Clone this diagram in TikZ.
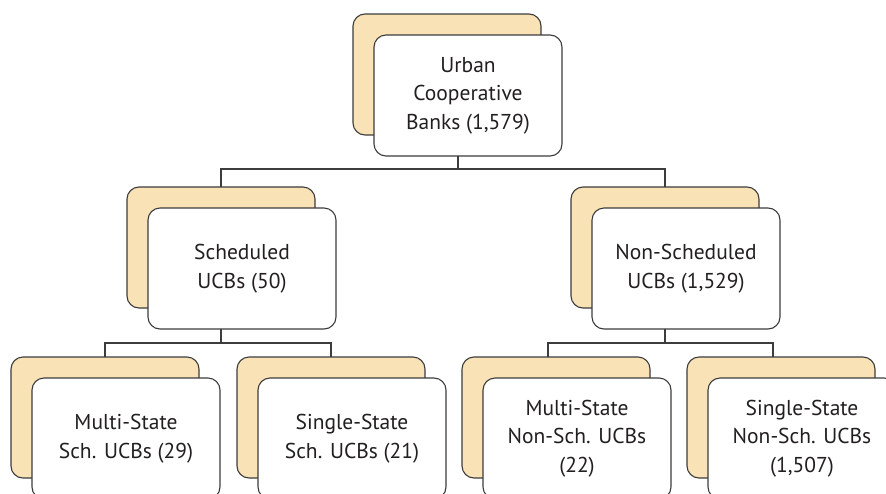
\documentclass[tikz,border=0pt]{standalone}
\usepackage{fontspec}
\setmainfont{PT Sans}
\definecolor{backfill}{RGB}{249,226,182}
\definecolor{edge}{RGB}{60,60,60}
\definecolor{txt}{RGB}{35,31,32}
\begin{document}
\begin{tikzpicture}[x=1pt,y=-1pt,
  boxbase/.style={draw=edge,line width=1.1pt,rounded corners=12pt,
    minimum width=188pt,minimum height=121pt,anchor=north west,inner sep=0pt,outer sep=0pt},
  backbox/.style={boxbase,fill=backfill},
  frontbox/.style={boxbase,fill=white,text=txt,align=center,
    font=\fontsize{21.5}{28.5}\selectfont},
  link/.style={draw=edge,line width=1.1pt}]
\useasboundingbox (0,0) rectangle (886,493);
\clip (0,0) rectangle (886,493);
% top
\node[backbox] (topb) at (353,14) {};
\node[frontbox] (top) at (374,35) {Urban\\Cooperative\\Banks (1,579)};
% level 2
\node[backbox] (schb) at (127,187) {};
\node[frontbox] (sch) at (148,208) {Scheduled\\UCBs (50)};
\node[backbox] (nschb) at (571,187) {};
\node[frontbox] (nsch) at (592,208) {Non-Scheduled\\UCBs (1,529)};
% level 3
\node[backbox] (mssb) at (11,357) {};
\node[frontbox] (mss) at (32,378) {Multi-State\\Sch. UCBs (29)};
\node[backbox] (sssb) at (237,357) {};
\node[frontbox] (sss) at (258,378) {Single-State\\Sch. UCBs (21)};
\node[backbox] (msnb) at (462,357) {};
\node[frontbox] (msn) at (483,378) {Multi-State\\Non-Sch. UCBs\\(22)};
\node[backbox] (ssnb) at (687,357) {};
\node[frontbox] (ssn) at (708,378) {Single-State\\Non-Sch. UCBs\\(1,507)};
% connectors
\coordinate (t0) at ([xshift=-10pt]top.south);
\draw[link] (t0) -- ++(0,13) coordinate (t1) -| (schb.north);
\draw[link] (t1) -| (nschb.north);
\coordinate (s0) at (sch.south -| schb.north);
\draw[link] (s0) -- ++(0,14) coordinate (s1) -| (mssb.north);
\draw[link] (s1) -| (sssb.north);
\coordinate (n0) at (nsch.south -| nschb.north);
\draw[link] (n0) -- ++(0,14) coordinate (n1) -| ([xshift=-8pt]msnb.north);
\draw[link] (n1) -| ([xshift=-8pt]ssnb.north);
\end{tikzpicture}
\end{document}
